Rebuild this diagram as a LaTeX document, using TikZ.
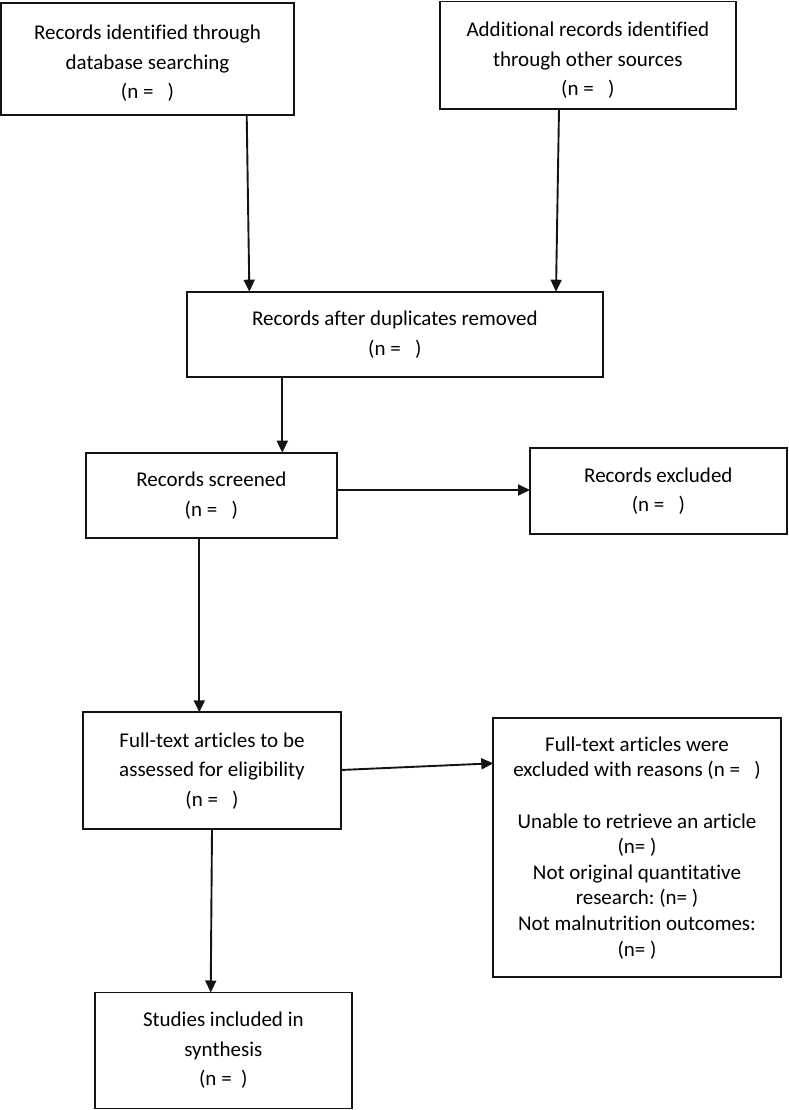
\documentclass[tikz,border=0pt]{standalone}
\usepackage{fontspec}
\setmainfont{Carlito}[Ligatures=NoCommon]
\usetikzlibrary{arrows.meta}
\definecolor{ink}{HTML}{141414}
\frenchspacing
\begin{document}
\begin{tikzpicture}[x=1pt,y=-1pt,
  box/.style={draw=ink,line width=1.8pt,inner sep=0pt,outer sep=0pt,align=center,
    text=black,font=\fontsize{21}{29.5}\selectfont},
  conn/.style={draw=ink,line width=1.9pt,-{Triangle[length=12pt,width=11pt]}}]
\useasboundingbox (0,0) rectangle (788,1110);
\node[box,minimum width=293pt,minimum height=112pt] (b1) at (147.5,59)
  {\rule{0pt}{23pt}Records identified through\\database searching\\(n = \ \ )};
\node[box,minimum width=295.7pt,minimum height=107.5pt] (b2) at (587.85,55.25)
  {\rule{0pt}{25pt}Additional records identified\\through other sources\\(n = \ \ )};
\node[box,minimum width=416.3pt,minimum height=85.6pt] (b3) at (394.85,334.5)
  {Records after duplicates removed\\(n = \ \ )};
\node[box,minimum width=250.7pt,minimum height=85.6pt] (b4) at (211.35,495.5)
  {Records screened\\(n = \ \ )};
\node[box,minimum width=256.7pt,minimum height=85.7pt] (b5) at (658.35,491.15)
  {Records excluded\\(n = \ \ )};
\node[box,minimum width=257.4pt,minimum height=117pt] (b6) at (212,770.8)
  {Full-text articles to be\\assessed for eligibility\\(n = \ \ )};
\node[box,minimum width=287.4pt,minimum height=259pt,
  font=\fontsize{21}{25.6}\selectfont] (b7) at (637,847.8)
  {Full-text articles were\\excluded with reasons (n = \ \ )\\[25.6pt]Unable to retrieve an article\\(n= )\\Not original quantitative\\research: (n= )\\Not malnutrition outcomes:\\(n= )};
\node[box,minimum width=256.7pt,minimum height=116pt] (b8) at (223.35,1050.5)
  {Studies included in\\synthesis\\(n = \ )};
\draw[conn] ([xshift=99.2pt]b1.south) -- ([xshift=-145.5pt]b3.north);
\draw[conn] ([xshift=-28.85pt]b2.south) -- ([xshift=161.15pt]b3.north);
\draw[conn] ([xshift=-112.55pt]b3.south) -- ([xshift=70.95pt]b4.north);
\draw[conn] ([yshift=5.5pt]b4.east) -- ([yshift=1.15pt]b5.west);
\draw[conn] ([xshift=-12.05pt]b4.south) -- ([xshift=-12.7pt]b6.north);
\draw[conn] ([yshift=0.8pt]b6.east) -- ([yshift=84.5pt]b7.west);
\draw[conn] (b6.south) -- ([xshift=-12.65pt]b8.north);
\end{tikzpicture}
\end{document}
